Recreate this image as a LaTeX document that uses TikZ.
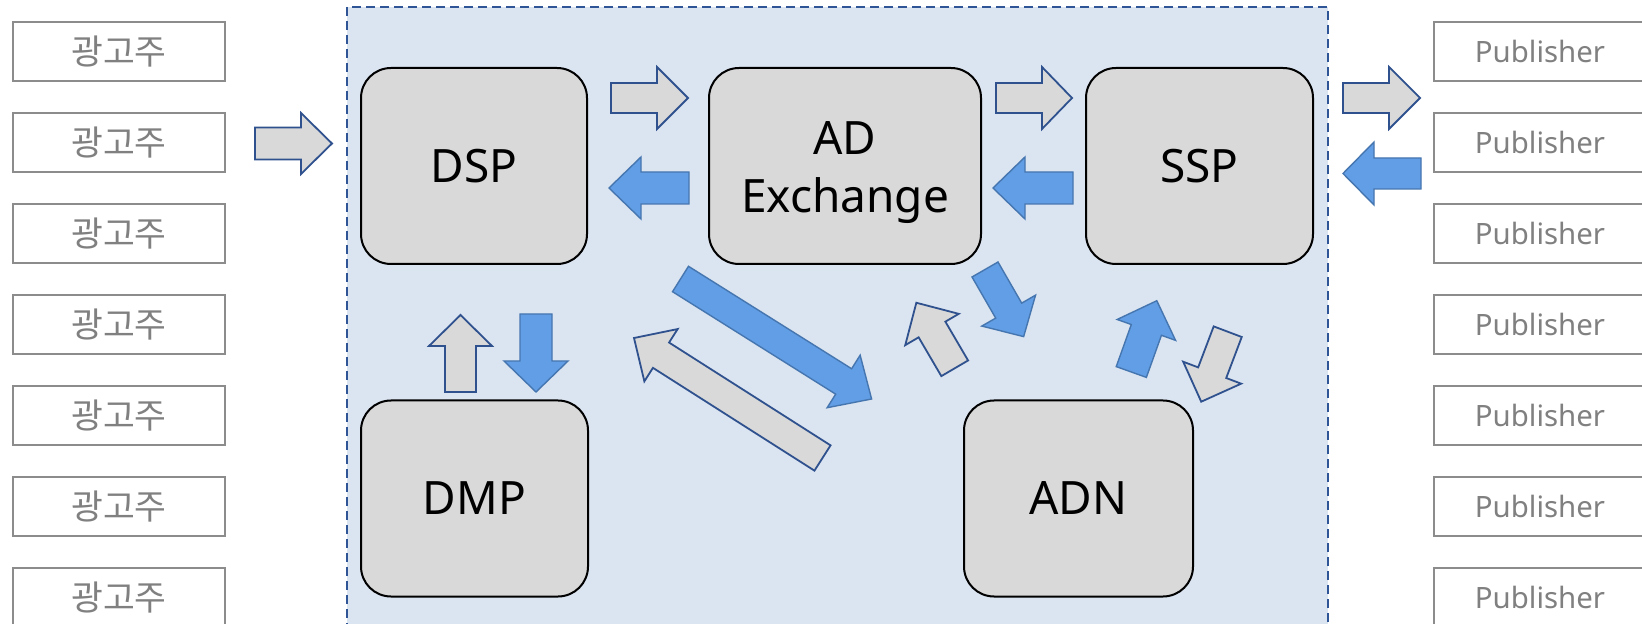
\documentclass[tikz,border=0pt]{standalone}
\usepackage{fontspec}
\setmainfont{Noto Sans}
\newfontfamily\krfont{Noto Sans CJK KR}
\definecolor{panel}{RGB}{219,228,241}
\definecolor{panelline}{RGB}{47,85,151}
\definecolor{boxgray}{RGB}{217,217,217}
\definecolor{txtgray}{RGB}{128,128,128}
\definecolor{brd}{RGB}{140,140,140}
\definecolor{blfill}{RGB}{97,158,229}
\definecolor{blline}{RGB}{70,118,175}
\definecolor{arline}{RGB}{47,82,143}
\newcommand{\blockarrow}[8]{%
  \pgfmathsetmacro{\baang}{atan2((#5)-(#3),(#4)-(#2))}%
  \pgfmathsetmacro{\balen}{veclen((#4)-(#2),(#5)-(#3))}%
  \pgfmathsetmacro{\baneck}{\balen-(#8)}%
  \begin{scope}[shift={(#2,#3)},rotate=-\baang]
    \draw[#1] (0,-#6) -- (\baneck,-#6) -- (\baneck,-#7) -- (\balen,0) -- (\baneck,#7) -- (\baneck,#6) -- (0,#6) -- cycle;
  \end{scope}}
\tikzset{
  mainbox/.style={draw=black, line width=1pt, fill=boxgray, rounded corners=15pt,
    minimum height=98pt, align=center, font=\fontsize{23}{28.5}\selectfont, text=black},
  adbox/.style={draw=brd, line width=1pt, fill=white, minimum width=106pt, minimum height=29.5pt,
    text=txtgray, font=\krfont\fontsize{17.3}{20}\selectfont},
  pubbox/.style={draw=brd, line width=1pt, fill=white, minimum width=106pt, minimum height=29.5pt,
    text=txtgray, font=\fontsize{14.7}{17}\selectfont},
  garrow/.style={fill=boxgray, draw=arline, line width=0.9pt, line join=miter},
  barrow/.style={fill=blfill, draw=blline, line width=0.7pt, line join=miter}
}
\begin{document}
\begin{tikzpicture}[x=0.5pt,y=-0.5pt]
\useasboundingbox (0,0) rectangle (1642,624);
\fill[white] (0,0) rectangle (1642,624);
% panel
\draw[fill=panel, draw=panelline, line width=1.1pt, dash pattern=on 4.5pt off 2.5pt] (347,7) rectangle (1328,650);
% left advertisers
\foreach \i in {1,...,7}{
  \node[adbox] (ad\i) at (119,{51.5+91*(\i-1)}) {광고주};
}
% publishers
\foreach \i in {1,...,7}{
  \node[pubbox] (pub\i) at (1540,{51.5+91*(\i-1)}) {Publisher};
}
% main boxes
\node[mainbox, minimum width=113pt] (dsp) at (474,166) {DSP};
\node[mainbox, minimum width=136pt] (adx) at (845,166) {\raisebox{-3pt}[\height][\depth]{\begin{tabular}{@{}c@{}}AD\\[0.5pt]Exchange\end{tabular}}};
\node[mainbox, minimum width=113.5pt] (ssp) at (1199.5,166) {SSP};
\node[mainbox, minimum width=113.5pt] (dmp) at (474.5,498.5) {DMP};
\node[mainbox, minimum width=114.5pt] (adn) at (1078.5,498.5) {ADN};
% block arrows
\blockarrow{garrow}{255}{143.5}{332}{143.5}{16}{30.5}{31}
\blockarrow{garrow}{611}{98}{688}{98}{15}{31}{31}
\blockarrow{barrow}{689}{188}{609}{188}{16}{31}{32}
\blockarrow{garrow}{996}{98}{1072}{98}{15}{31}{30}
\blockarrow{barrow}{1073}{188}{993}{188}{16}{31}{32}
\blockarrow{garrow}{1343}{98}{1420}{98}{15}{31}{31}
\blockarrow{barrow}{1421}{173.5}{1343}{173.5}{15.5}{31.5}{31}
\blockarrow{garrow}{460.5}{392}{460.5}{315}{15.5}{31.5}{31}
\blockarrow{barrow}{536}{314}{536}{392}{16}{32}{31}
\blockarrow{barrow}{680.5}{279}{871.6}{399}{15}{31}{33}
\blockarrow{garrow}{822.5}{458}{634}{338}{15}{31}{32}
\blockarrow{garrow}{954.7}{368.3}{916.3}{302.7}{15.5}{31}{31}
\blockarrow{barrow}{985}{269.5}{1023.7}{336.7}{15}{31}{30}
\blockarrow{barrow}{1131.3}{372}{1156.8}{300.7}{16}{31}{31}
\blockarrow{garrow}{1227.7}{331.7}{1201.2}{401.7}{15}{31}{31}
\end{tikzpicture}
\end{document}
